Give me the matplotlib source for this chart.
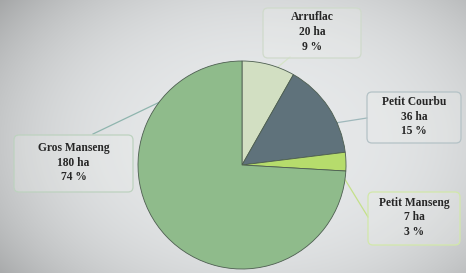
import numpy as np
import matplotlib
matplotlib.use('Agg')
import matplotlib.pyplot as plt
from matplotlib.patches import FancyBboxPatch

# data
cepages = ['Arruflac', 'Petit Courbu', 'Petit Manseng', 'Gros Manseng']
surfaces = [20, 36, 7, 180]
pourcents = [9, 15, 3, 74]
colors = ['#d2dfc2', '#5f727b', '#b6dc6c', '#8fbb8b']

W, H = 466, 273
fig = plt.figure(figsize=(W / 100, H / 100), dpi=100)
ax = fig.add_axes([0, 0, 1, 1])

# projected-slide background (vignette)
yy, xx = np.mgrid[0:H, 0:W]
d = ((xx - 260) / 330.0) ** 2 + ((yy - 140) / 230.0) ** 2
v = np.clip(0.915 - 0.26 * d ** 1.5, 0, 1)
bg = np.dstack([v * 0.985, v * 0.995, v])
ax.imshow(bg, extent=[0, W, 0, H], origin='upper', zorder=0, aspect='auto')

cx, cy, r = 242, H - 165, 104
wedges, _ = ax.pie(surfaces, colors=colors, startangle=90, counterclock=False,
                   center=(cx, cy), radius=r, frame=True,
                   wedgeprops=dict(edgecolor='#4d5e50', linewidth=0.6))
for w in wedges:
    w.set_zorder(2)

# label boxes: (x0, y0, x1, y1) in pixels from top-left, edge colour
boxes = [(263, 8, 361, 58, '#cfdacb'),
         (367, 92, 461, 143, '#b4c2c6'),
         (368, 192, 460, 245, '#d2e8aa'),
         (14, 135, 133, 192, '#bdd2bf')]
# leader lines: angle on pie edge -> point on box
leaders = [(70, (290, 57), '#d6e4c8'),
           (24, (367, 118), '#9fb8bb'),
           (-8, (368, 217), '#c4e08a'),
           (143, (93, 134), '#8fb5ae')]

for (x0, y0, x1, y1, ec), (ang, end, lc), name, ha, pc in zip(
        boxes, leaders, cepages, surfaces, pourcents):
    a = np.deg2rad(ang)
    ax.plot([cx + r * np.cos(a), end[0]], [cy + r * np.sin(a), H - end[1]],
            color=lc, lw=0.9, zorder=1)
    ax.add_patch(FancyBboxPatch((x0 + 5, H - y1 + 5), x1 - x0 - 10, y1 - y0 - 10,
                                boxstyle='round,pad=5', fc='#eef0ee', ec='none',
                                alpha=0.25, zorder=3))
    ax.add_patch(FancyBboxPatch((x0 + 5, H - y1 + 5), x1 - x0 - 10, y1 - y0 - 10,
                                boxstyle='round,pad=5', fc='none', ec=ec,
                                lw=0.9, zorder=3))
    ax.text((x0 + x1) / 2, H - (y0 + y1) / 2 + 1, f'{name}\n{ha} ha\n{pc} %',
            ha='center', va='center', family='Liberation Serif',
            fontweight='bold', fontsize=8.3, linespacing=1.3,
            color='#262626', zorder=4)

ax.set_xlim(0, W)
ax.set_ylim(0, H)
ax.axis('off')
fig.savefig('out.png', dpi=100)
